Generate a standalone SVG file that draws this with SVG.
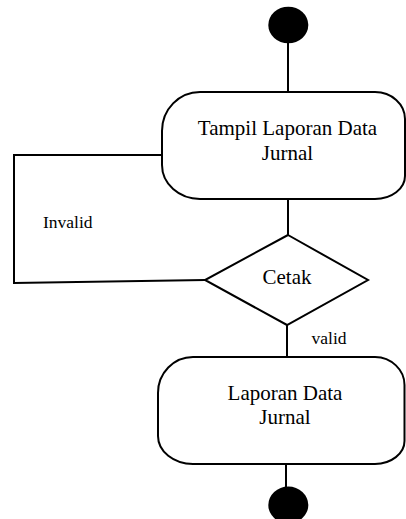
<svg xmlns="http://www.w3.org/2000/svg" width="406" height="519" viewBox="0 0 406 519">
<style>
.ln{fill:none;stroke:#000;stroke-width:2}
.box{fill:#fff;stroke:#000;stroke-width:2}
.dot{fill:#000}
.t{font-family:"Liberation Serif","Times New Roman",serif;font-size:21px;fill:#000;text-anchor:middle}
.lbl{font-family:"Liberation Serif","Times New Roman",serif;font-size:17.5px;fill:#000}
</style>
<rect width="406" height="519" fill="#fff"/>
<g id="connectors">
<line class="ln" x1="288" y1="40" x2="288" y2="92"/>
<line class="ln" x1="288" y1="199" x2="288" y2="235"/>
<polyline class="ln" points="162,155 14,155 14,283 205,280"/>
<line class="ln" x1="287" y1="325" x2="287" y2="357"/>
<line class="ln" x1="286" y1="464" x2="286" y2="490"/>
<text class="lbl" x="43" y="228">Invalid</text>
<text class="lbl" x="311.5" y="344">valid</text>
</g>
<g id="start">
<ellipse class="dot" cx="288.3" cy="25" rx="20" ry="18.3"/>
</g>
<g id="tampil">
<path class="box" d="M200,92 L375,92 A30,27 0 0 1 405,119 L405,176 A30,23 0 0 1 375,199 L200,199 A38,34 0 0 1 162,165 L162,131 A38,39 0 0 1 200,92 Z"/>
<text class="t" x="287.5" y="135">Tampil Laporan Data</text>
<text class="t" x="287.5" y="160">Jurnal</text>
</g>
<g id="cetak">
<polygon class="box" points="288,235 368,280 287,325 205,280"/>
<text class="t" x="287" y="284">Cetak</text>
</g>
<g id="laporan">
<path class="box" d="M193,357 L375,357 A30,28 0 0 1 404.5,385 L404.5,441 A30,23 0 0 1 375,464 L193,464 A35,28 0 0 1 158,436 L158,393 A35,36 0 0 1 193,357 Z"/>
<text class="t" x="285" y="400">Laporan Data</text>
<text class="t" x="285" y="424">Jurnal</text>
</g>
<g id="end">
<ellipse class="dot" cx="288.3" cy="505" rx="20" ry="18.5"/>
</g>
</svg>
